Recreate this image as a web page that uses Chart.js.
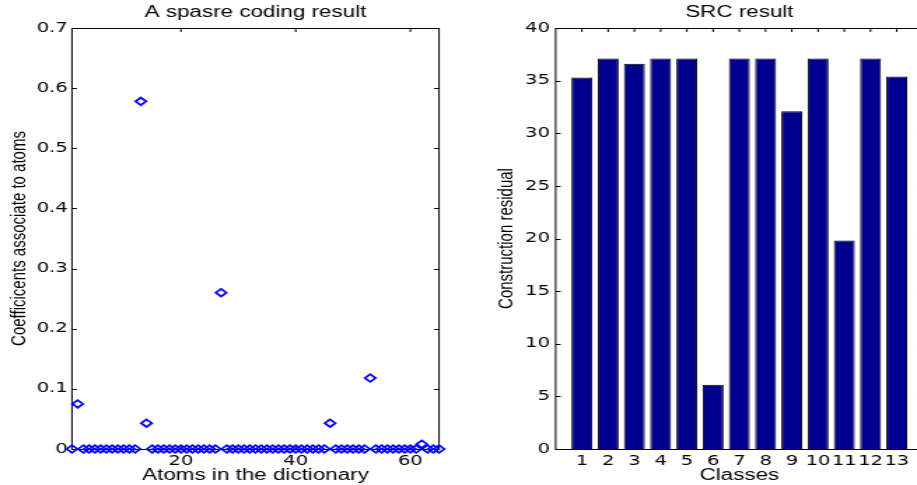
<!DOCTYPE html>
<html>
<head>
<meta charset="utf-8">
<script src="https://cdn.jsdelivr.net/npm/chart.js@4"></script>
<style>
  html, body { margin: 0; padding: 0; background: #fff; overflow: hidden; width: 917px; height: 485px; position: relative; }
  canvas { position: absolute; top: 0; }
</style>
</head>
<body>
<!-- the original figure is stretched sideways, so the canvases are drawn narrow and widened by css -->
<canvas id="coefChart" width="330" height="485" style="left:0;width:462px;height:485px"></canvas>
<canvas id="srcChart" width="340" height="485" style="left:462px;width:476px;height:485px"></canvas>
<script>
// left panel: sparse coefficients per atom
const atoms = [
  1, 2, 3, 4, 5, 6, 7, 8, 9, 10, 11, 12, 13, 14, 15, 16, 17, 18, 19, 20,
  21, 22, 23, 24, 25, 26, 27, 28, 29, 30, 31, 32, 33, 34, 35, 36, 37, 38, 39, 40,
  41, 42, 43, 44, 45, 46, 47, 48, 49, 50, 51, 52, 53, 54, 55, 56, 57, 58, 59, 60,
  61, 62, 63, 64, 65
];
const coefficients = [
  0, 0.075, 0, 0, 0, 0, 0, 0, 0, 0, 0, 0, 0.578, 0.043, 0, 0, 0, 0, 0, 0,
  0, 0, 0, 0, 0, 0, 0.26, 0, 0, 0, 0, 0, 0, 0, 0, 0, 0, 0, 0, 0,
  0, 0, 0, 0, 0, 0.043, 0, 0, 0, 0, 0, 0, 0.118, 0, 0, 0, 0, 0, 0, 0,
  0, 0.008, 0, 0, 0
];
const atomTicks = [20, 40, 60];
const coefTicks = [0, 0.1, 0.2, 0.3, 0.4, 0.5, 0.6, 0.7];

// right panel: residual per class
const classes = [1, 2, 3, 4, 5, 6, 7, 8, 9, 10, 11, 12, 13];
const residuals = [35.3, 37.1, 36.6, 37.1, 37.1, 6.1, 37.1, 37.1, 32.1, 37.1, 19.8, 37.1, 35.4];
const classTicks = [1, 2, 3, 4, 5, 6, 7, 8, 9, 10, 11, 12, 13];
const residualTicks = [0, 5, 10, 15, 20, 25, 30, 35, 40];

const tickFont = { family: 'DejaVu Sans', size: 14 };
const labelFont = { family: '"Liberation Sans", Arial, sans-serif', size: 16 };
const ylabelFont = { family: '"Liberation Sans", Arial, sans-serif', size: 15 };

// matlab style box with inward ticks on all four sides, plus the axes title
const matlabAxes = {
  id: 'matlabAxes',
  beforeDatasetsDraw(chart, args, opts) {
    const { ctx, chartArea: a, scales: { x, y } } = chart;
    ctx.save();
    ctx.strokeStyle = '#000';
    ctx.lineWidth = 1;
    ctx.strokeRect(a.left, a.top + 0.5, a.right - a.left, a.bottom - a.top);
    ctx.beginPath();
    x.ticks.forEach(t => {
      const px = x.getPixelForValue(t.value);
      ctx.moveTo(px, a.bottom); ctx.lineTo(px, a.bottom - 4);
      ctx.moveTo(px, a.top); ctx.lineTo(px, a.top + 4);
    });
    y.ticks.forEach(t => {
      const py = Math.round(y.getPixelForValue(t.value)) + 0.5;
      ctx.moveTo(a.left, py); ctx.lineTo(a.left + 3.5, py);
      ctx.moveTo(a.right, py); ctx.lineTo(a.right - 3.5, py);
    });
    ctx.stroke();
    ctx.fillStyle = '#000';
    ctx.font = '16px "Liberation Sans", Arial, sans-serif';
    ctx.textAlign = 'center';
    ctx.textBaseline = 'alphabetic';
    ctx.fillText(opts.title, (a.left + a.right) / 2, 17);
    ctx.restore();
  }
};

function fixedTicks(list) {
  return s => { s.ticks = list.map(v => ({ value: v })); };
}

new Chart(document.getElementById('coefChart'), {
  type: 'scatter',
  data: {
    datasets: [{
      data: atoms.map((a, i) => ({ x: a, y: coefficients[i] })),
      pointStyle: 'rectRot',
      pointRadius: 3.8,
      pointBorderWidth: 1.7,
      pointBorderColor: '#0000ff',
      pointBackgroundColor: 'rgba(0,0,0,0)',
      clip: false
    }]
  },
  options: {
    responsive: false,
    animation: false,
    devicePixelRatio: 1,
    layout: { padding: { top: 28, right: 16.4, left: 0, bottom: 0 } },
    plugins: {
      legend: { display: false },
      tooltip: { enabled: false },
      matlabAxes: { title: 'A spasre coding result' }
    },
    scales: {
      x: {
        type: 'linear', min: 1, max: 65,
        grid: { display: false, drawTicks: false },
        border: { display: false },
        afterBuildTicks: fixedTicks(atomTicks),
        afterFit: s => { s.height = 36; },
        ticks: { font: tickFont, color: '#000', padding: 4, maxRotation: 0, minRotation: 0, autoSkip: false, callback: v => String(v) },
        title: { display: true, text: 'Atoms in the dictionary', font: labelFont, color: '#000', padding: 0 }
      },
      y: {
        min: 0, max: 0.7,
        grid: { display: false, drawTicks: false },
        border: { display: false },
        afterBuildTicks: fixedTicks(coefTicks),
        afterFit: s => { s.width = 51.4; },
        ticks: { font: tickFont, color: '#000', padding: 3, autoSkip: false, callback: v => String(v) },
        title: { display: true, text: 'Coefficicents associate to atoms', font: ylabelFont, color: '#000', padding: { top: 4.6, bottom: 0 } }
      }
    }
  },
  plugins: [matlabAxes]
});

new Chart(document.getElementById('srcChart'), {
  type: 'bar',
  data: {
    datasets: [{
      data: classes.map((c, i) => ({ x: c, y: residuals[i] })),
      backgroundColor: '#00008f',
      borderColor: '#000',
      borderWidth: 1,
      barPercentage: 0.8,
      categoryPercentage: 1
    }]
  },
  options: {
    responsive: false,
    animation: false,
    devicePixelRatio: 1,
    layout: { padding: { top: 28, right: 10.7, left: 0, bottom: 0 } },
    plugins: {
      legend: { display: false },
      tooltip: { enabled: false },
      matlabAxes: { title: 'SRC result' }
    },
    scales: {
      x: {
        type: 'linear', min: 0, max: 14, offset: false,
        grid: { display: false, drawTicks: false },
        border: { display: false },
        afterBuildTicks: fixedTicks(classTicks),
        afterFit: s => { s.height = 36; },
        ticks: { font: tickFont, color: '#000', padding: 4, maxRotation: 0, minRotation: 0, autoSkip: false, callback: v => String(v) },
        title: { display: true, text: 'Classes', font: labelFont, color: '#000', padding: 0 }
      },
      y: {
        min: 0, max: 40,
        grid: { display: false, drawTicks: false },
        border: { display: false },
        afterBuildTicks: fixedTicks(residualTicks),
        afterFit: s => { s.width = 66.9; },
        ticks: { font: tickFont, color: '#000', padding: 4, autoSkip: false, callback: v => String(v) },
        title: { display: true, text: 'Construction residual', font: ylabelFont, color: '#000', padding: { top: 22.9, bottom: 0 } }
      }
    }
  },
  plugins: [matlabAxes]
});
</script>
</body>
</html>
